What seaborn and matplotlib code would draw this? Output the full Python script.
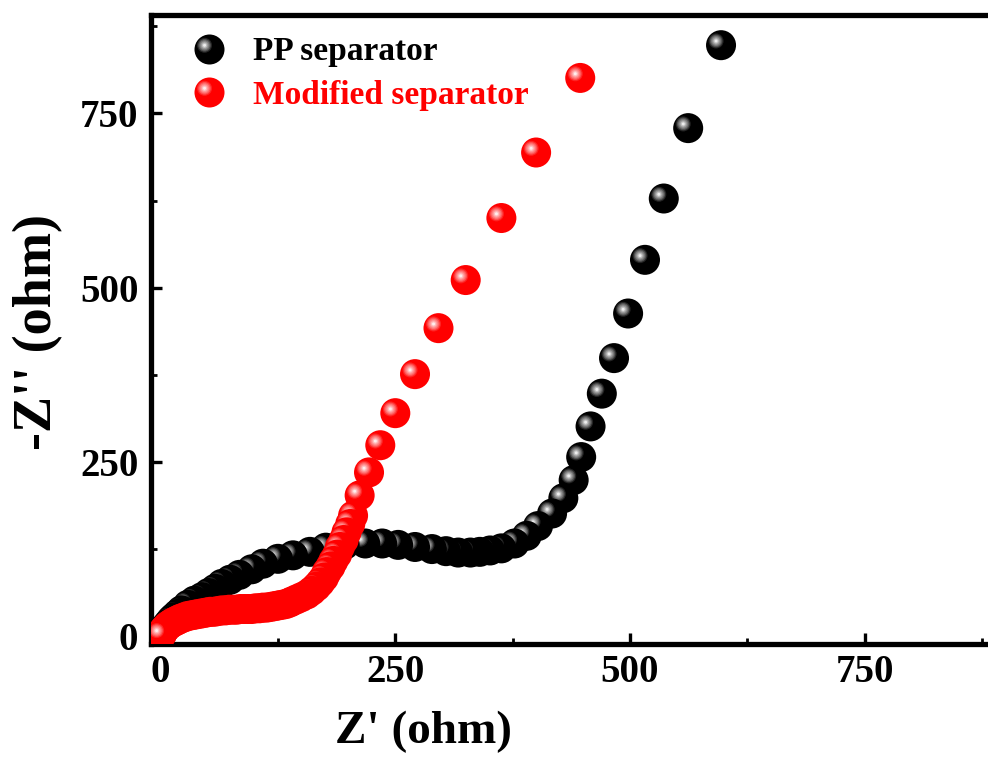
import numpy as np
import pandas as pd
import matplotlib
matplotlib.use("Agg")
import matplotlib.pyplot as plt
from matplotlib.path import Path
from matplotlib.lines import Line2D
from matplotlib.legend_handler import HandlerTuple
import seaborn as sns

# Nyquist data: Z' (real part) and -Z'' (imaginary part), in ohm
pp_zre = [1, 3, 5, 8, 11, 14, 18, 22, 29, 36, 44, 51, 58, 65, 74, 84, 97, 109,
          125, 141, 159, 176, 196, 218, 236, 253, 271, 289, 304, 317, 330, 340,
          351, 363, 377, 390, 402, 417, 429, 440, 448, 458, 470, 483, 498, 516,
          536, 562, 597]
pp_zim = [3, 8, 13, 18, 23, 27, 32, 37, 45, 51, 56, 62, 68, 75, 81, 88, 96, 104,
          111, 116, 121, 127, 131, 133, 133, 131, 128, 125, 122, 120, 120, 121,
          123, 126, 133, 144, 158, 176, 198, 224, 257, 301, 348, 399, 463, 540,
          628, 729, 848]

mod_zre = [1, 2, 3, 5, 7, 9, 12, 15, 18, 21, 25, 29, 33, 37, 41, 45, 49, 53, 57,
           61, 65, 69, 73, 77, 81, 85, 89, 93, 97, 101, 105, 109, 113, 117, 121,
           125, 129, 133, 137, 140, 145, 150, 156, 161, 166, 170, 174, 177, 181,
           184, 188, 191, 195, 198, 202, 205, 212, 222, 234, 250, 271, 296, 325,
           363, 400, 447]
mod_zim = [2, 5, 8, 11, 14, 16, 19, 21, 23, 25, 27, 29, 30, 31, 32, 33, 34, 35, 35,
           36, 37, 37, 38, 38, 38, 39, 39, 39, 39, 40, 40, 41, 41, 42, 43,
           44, 45, 46, 48, 50, 53, 56, 60, 65, 71, 77, 84, 92, 100, 108, 117,
           128, 138, 149, 161, 173, 202, 235, 274, 320, 376, 442, 511, 600, 694,
           801]

series_names = ["PP separator", "Modified separator"]
series_colors = ["#000000", "#ff0000"]
x_major = [0, 250, 500, 750]
x_minor = [125, 375, 625, 875]
y_major = [0, 250, 500, 750]
y_minor = [125, 375, 625, 875]

sns.set_style("white")
plt.rcParams["font.family"] = ["Liberation Serif", "DejaVu Serif"]
plt.rcParams["font.weight"] = "bold"
plt.rcParams["axes.labelweight"] = "bold"
plt.rcParams["text.color"] = "black"
plt.rcParams["axes.labelcolor"] = "black"
plt.rcParams["xtick.color"] = "black"
plt.rcParams["ytick.color"] = "black"

df = pd.concat(
    [
        pd.DataFrame({"zre": pp_zre, "zim": pp_zim, "sample": series_names[0]}),
        pd.DataFrame({"zre": mod_zre, "zim": mod_zim, "sample": series_names[1]}),
    ],
    ignore_index=True,
)

fig = plt.figure(figsize=(9.88, 7.6), dpi=100)
ax = fig.add_axes([0.1528, 0.1520, 0.8472, 0.8289])

# Shaded "ball" marker: dark base disc plus a highlight made of nested discs
BALL_SIZE = 467.0                       # points^2 (about 30 px across)
HL_CENTER = np.array([-0.165, 0.14])    # highlight centre, base radius = 0.5
HL_LAYERS = [(0.25, 0.14), (0.21, 0.32), (0.17, 0.47), (0.13, 0.6),
             (0.09, 0.75), (0.05, 0.93)]
circle = Path.unit_circle()


def tint(color, t):
    rgb = np.array(matplotlib.colors.to_rgb(color))
    return tuple(rgb + (1.0 - rgb) * t)


def ball_paths():
    paths = [Path(circle.vertices * 0.5, circle.codes)]
    for r, _ in HL_LAYERS:
        paths.append(Path(circle.vertices * r + HL_CENTER, circle.codes))
    return paths


def ball_colors(color):
    return [tint(color, 0.0)] + [tint(color, t) for _, t in HL_LAYERS]


def marker_path(r, center):
    # custom marker paths are rescaled by their largest coordinate,
    # so a lone MOVETO at radius 1 keeps the highlight at true scale
    verts = np.vstack([[[1.0, 0.0]], circle.vertices * r + center])
    codes = np.concatenate([[Path.MOVETO], circle.codes])
    return Path(verts, codes)


for name, color in zip(series_names, series_colors):
    # tail first, so the high-frequency points sit on top
    sub = df[df["sample"] == name].iloc[::-1]
    sns.scatterplot(data=sub, x="zre", y="zim", ax=ax, s=BALL_SIZE, color=color,
                    linewidth=0, legend=False, zorder=3)
    coll = ax.collections[-1]
    offs = np.asarray(coll.get_offsets())
    paths = ball_paths()
    n_layers = len(paths)
    coll.set_offsets(np.repeat(offs, n_layers, axis=0))
    coll.set_paths(paths * len(offs))
    coll.set_facecolor(ball_colors(color) * len(offs))
    coll.set_edgecolor("none")
    coll.set_sizes([BALL_SIZE])

# Legend with the same shaded balls
msize = np.sqrt(BALL_SIZE)
handles = []
for color in series_colors:
    parts = [Line2D([], [], ls="none", marker="o", markersize=msize,
                    markerfacecolor=color, markeredgewidth=0)]
    for r, t in HL_LAYERS:
        parts.append(Line2D([], [], ls="none",
                            marker=marker_path(2 * r, 2 * HL_CENTER),
                            markersize=msize, markerfacecolor=tint(color, t),
                            markeredgewidth=0))
    handles.append(tuple(parts))

leg = ax.legend(handles, series_names, loc="upper left",
                bbox_to_anchor=(0.037, 0.976), frameon=False, fontsize=24,
                handler_map={tuple: HandlerTuple(ndivide=1, pad=0)},
                handlelength=1.2, handletextpad=0.74, labelspacing=0.37,
                borderaxespad=0.0, borderpad=0.2)
for txt, color in zip(leg.get_texts(), series_colors):
    txt.set_color(color)

ax.set_xlim(-10.3, 881.4)
ax.set_ylim(-11.9, 892)
ax.set_xticks(x_major)
ax.set_xticks(x_minor, minor=True)
ax.set_yticks(y_major)
ax.set_yticks(y_minor, minor=True)
ax.tick_params(which="both", direction="in", bottom=True, left=True,
               top=False, right=False, labelsize=28, colors="black")
ax.tick_params(which="major", length=8, width=2.4)
ax.tick_params(which="minor", length=4, width=2.0)
ax.tick_params(axis="x", pad=7)
ax.tick_params(axis="y", pad=9)

for side in ["left", "bottom", "top"]:
    ax.spines[side].set_linewidth(3.8)
    ax.spines[side].set_color("black")
ax.spines["right"].set_visible(False)

ax.set_xlabel("Z' (ohm)", fontsize=34, fontweight="bold", color="black")
ax.set_ylabel("-Z'' (ohm)", fontsize=39, fontweight="bold", color="black")
ax.xaxis.set_label_coords(0.325, -0.139)
ax.xaxis.label.set_verticalalignment("center")
ax.yaxis.set_label_coords(-0.135, 0.496)
ax.yaxis.label.set_verticalalignment("center")

fig.savefig("out.png", dpi=100)
